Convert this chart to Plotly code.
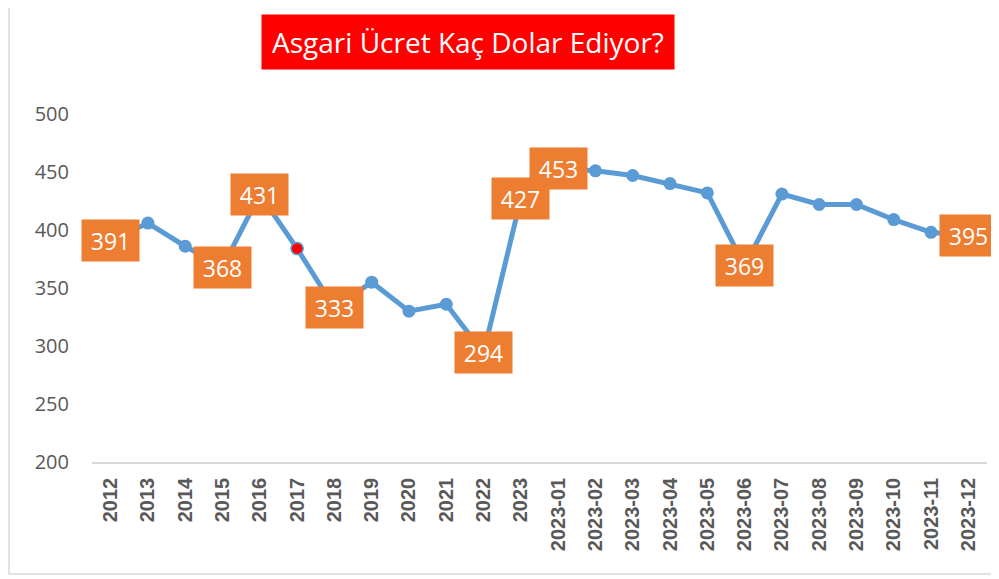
import plotly.graph_objects as go

categories = ["2012", "2013", "2014", "2015", "2016", "2017", "2018", "2019", "2020", "2021", "2022", "2023",
              "2023-01", "2023-02", "2023-03", "2023-04", "2023-05", "2023-06", "2023-07", "2023-08",
              "2023-09", "2023-10", "2023-11", "2023-12"]
values = [391, 406, 386, 368, 431, 384, 333, 355, 330, 336, 294, 427,
          453, 451, 447, 440, 432, 369, 431, 422, 422, 409, 398, 395]
labeled = ["2012", "2015", "2016", "2018", "2022", "2023", "2023-01", "2023-06", "2023-12"]
highlight = ["2017"]
y_ticks = [200, 250, 300, 350, 400, 450, 500]
title_text = "Asgari Ücret Kaç Dolar Ediyor?"

# page body has an 8px margin, so the figure is drawn slightly smaller
OFF = 8
W, H = 999 - OFF, 579 - OFF
L, T = 92 - OFF, 114 - OFF
pw, ph = 895, 348
R, B = W - L - pw, H - T - ph

fig = go.Figure()
fig.add_trace(go.Scatter(
    x=categories, y=values, mode="lines+markers",
    line=dict(color="#5B9BD5", width=5),
    marker=dict(color="#5B9BD5", size=13),
    hoverinfo="x+y", showlegend=False,
))
hx = [c for c in categories if c in highlight]
hy = [v for c, v in zip(categories, values) if c in highlight]
fig.add_trace(go.Scatter(
    x=hx, y=hy, mode="markers",
    marker=dict(color="#FF0000", size=12, line=dict(color="#5B9BD5", width=1.5)),
    showlegend=False,
))

for i, (c, v) in enumerate(zip(categories, values)):
    if c in labeled:
        fig.add_annotation(
            x=i, y=v, xref="x", yref="y", text=str(v), showarrow=False,
            xanchor="center", yanchor="middle",
            font=dict(family="Open Sans, Noto Sans, sans-serif", size=23, color="white"),
            bgcolor="#ED7D31", width=49, height=33, borderpad=4,
        )

# title box (centre at page x=468, y=42)
fig.add_annotation(
    x=(468 - 92) / pw, y=(462 - 42) / ph, xref="paper", yref="paper",
    xanchor="center", yanchor="middle",
    text=title_text, showarrow=False,
    font=dict(family="Open Sans, Noto Sans, sans-serif", size=28, color="white"),
    bgcolor="#FF0000", width=404, height=46, borderpad=4,
)

# chart frame (left and bottom visible)
fig.add_shape(type="rect", xref="paper", yref="paper",
              x0=(1 - L) / pw, x1=(1010 - L) / pw,
              y0=(462 - 574) / ph, y1=(462 + 10) / ph,
              line=dict(color="#D9D9D9", width=1.5), fillcolor="rgba(0,0,0,0)", layer="below")

fig.update_layout(
    width=W, height=H,
    margin=dict(l=L, r=R, t=T, b=B, autoexpand=False),
    paper_bgcolor="white", plot_bgcolor="white",
    font=dict(family="Open Sans, Noto Sans, sans-serif", color="#595959"),
    xaxis=dict(
        type="category", categoryorder="array", categoryarray=categories,
        tickangle=-90, tickfont=dict(family="Liberation Sans, Arial, sans-serif", size=20, color="#595959", weight="bold"),
        showgrid=False, showline=True, linecolor="#D9D9D9", linewidth=1.5,
        ticks="", range=[-0.5, len(categories) - 0.5], automargin=False, ticklabelstandoff=6,
    ),
    yaxis=dict(
        range=[200, 500], tickvals=y_ticks, showgrid=False, zeroline=False,
        showline=False, ticks="", ticklabelstandoff=22, automargin=False,
        tickfont=dict(family="Open Sans, Noto Sans, sans-serif", size=20, color="#595959"),
    ),
)

fig.write_html("out.html")
